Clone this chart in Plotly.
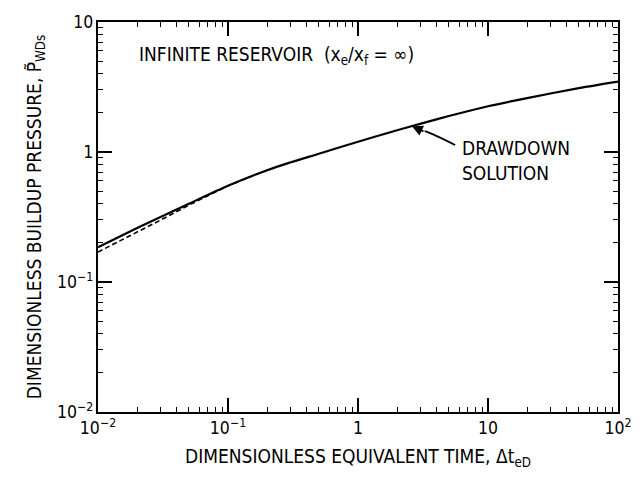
import plotly.graph_objects as go

# Drawdown solution (solid) and buildup curve (dashed), infinite reservoir
t_drawdown = [0.01, 0.02, 0.03, 0.05, 0.1, 0.2, 0.3, 0.5, 1, 2, 3, 5, 10, 20, 50, 100]
p_drawdown = [0.185, 0.26, 0.315, 0.40, 0.55, 0.725, 0.83, 0.97, 1.2, 1.47, 1.645, 1.89, 2.25, 2.6, 3.1, 3.48]

t_buildup = [0.01, 0.02, 0.03, 0.05, 0.07, 0.1, 0.2]
p_buildup = [0.17, 0.24, 0.298, 0.39, 0.46, 0.55, 0.725]

FONT = "Liberation Sans Narrow, DejaVu Sans Condensed, Arial Narrow, sans-serif"

fig = go.Figure()
fig.add_trace(go.Scatter(x=t_buildup, y=p_buildup, mode="lines",
                         line=dict(color="black", width=1.6, dash="5px,3px")))
fig.add_trace(go.Scatter(x=t_drawdown, y=p_drawdown, mode="lines",
                         line=dict(color="black", width=2.2, shape="spline", smoothing=0.8)))

# decade ticks labelled as powers of ten (1, 10, 10^2, 10^-1 ...), minor ticks at 2..9
axis_common = dict(
    type="log", showgrid=False, zeroline=False,
    showline=True, linecolor="black", linewidth=2, mirror="ticks",
    tickmode="linear", tick0=0, dtick=1, exponentformat="power",
    ticks="inside", ticklen=14, tickwidth=1.6, tickcolor="black",
    tickfont=dict(family=FONT, size=14, color="black"),
    minor=dict(ticks="inside", dtick="D1", ticklen=5, tickwidth=1.2,
               tickcolor="black", showgrid=False),
)

fig.update_xaxes(
    **axis_common, range=[-2, 2],
    title=dict(text="DIMENSIONLESS EQUIVALENT TIME, \u0394t<sub>eD</sub>",
               font=dict(family=FONT, size=19, color="black"), standoff=12),
)
fig.update_yaxes(
    **axis_common, range=[-2, 1],
    title=dict(text="DIMENSIONLESS BUILDUP PRESSURE, P\u0303<sub>WDs</sub>",
               font=dict(family=FONT, size=19, color="black"), standoff=10),
)

fig.add_annotation(xref="paper", yref="paper", x=0.0755, y=0.913,
                   xanchor="left", yanchor="middle", showarrow=False,
                   text="INFINITE RESERVOIR  (x<sub>e</sub>/x<sub>f</sub> = \u221e)",
                   font=dict(family=FONT, size=19, color="black"))
fig.add_annotation(xref="paper", yref="paper", x=0.696, y=0.646,
                   xanchor="left", yanchor="middle", showarrow=False, align="left",
                   text="DRAWDOWN<br>SOLUTION",
                   font=dict(family=FONT, size=19, color="black"))

# curved leader from the label to the drawdown curve
def px(xp, yp):
    return (xp - 98) / 530, (412 - yp) / 393

x0, y0 = px(462, 143)
xc, yc = px(440, 132)
x1, y1 = px(431, 129)
fig.add_shape(type="path", xref="paper", yref="paper",
              path=f"M {x0},{y0} Q {xc},{yc} {x1},{y1}",
              line=dict(color="black", width=1.8))
fig.add_annotation(x=0.415, y=0.199, text="", showarrow=True,
                   axref="pixel", ayref="pixel", ax=13, ay=6,
                   arrowhead=2, arrowsize=1.2, arrowwidth=1.8, arrowcolor="black")

fig.update_layout(
    width=644, height=481,
    margin=dict(l=98, r=16, t=19, b=69),
    paper_bgcolor="white", plot_bgcolor="white",
    showlegend=False,
)

fig.write_html("out.html")
